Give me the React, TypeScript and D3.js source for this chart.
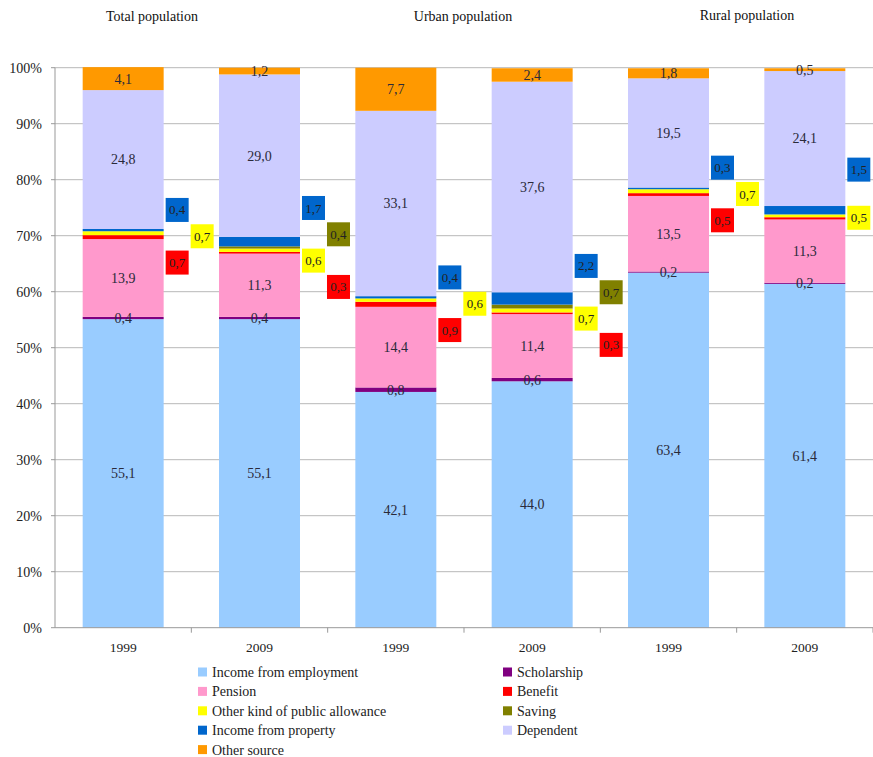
import React from "react";
import * as d3 from "d3";

const groups = ["Total population", "Urban population", "Rural population"];
const years = ["1999", "2009", "1999", "2009", "1999", "2009"];
const barIds = ["t1999", "t2009", "u1999", "u2009", "r1999", "r2009"];

const seriesNames = [
  "Income from employment",
  "Scholarship",
  "Pension",
  "Benefit",
  "Other kind of public allowance",
  "Saving",
  "Income from property",
  "Dependent",
  "Other source",
];
const seriesColors = [
  "#99ccff",
  "#800080",
  "#ff99cc",
  "#ff0000",
  "#ffff00",
  "#808000",
  "#0066cc",
  "#ccccff",
  "#ff9900",
];

const employment = [55.1, 55.1, 42.1, 44.0, 63.4, 61.4];
const scholarship = [0.4, 0.4, 0.8, 0.6, 0.2, 0.2];
const pension = [13.9, 11.3, 14.4, 11.4, 13.5, 11.3];
const benefit = [0.7, 0.3, 0.9, 0.3, 0.5, 0.4];
const allowance = [0.7, 0.6, 0.6, 0.7, 0.7, 0.5];
const saving = [0, 0.4, 0, 0.7, 0, 0];
const property = [0.4, 1.7, 0.4, 2.2, 0.3, 1.5];
const dependent = [24.8, 29.0, 33.1, 37.6, 19.5, 24.1];
const otherSource = [4.1, 1.2, 7.7, 2.4, 1.8, 0.5];

const seriesValues = [
  employment,
  scholarship,
  pension,
  benefit,
  allowance,
  saving,
  property,
  dependent,
  otherSource,
];

const yTicks = [0, 10, 20, 30, 40, 50, 60, 70, 80, 90, 100];

// which series get in-bar labels, which get outside boxes
const inBar = [0, 1, 2, 7, 8];
const boxed = [6, 5, 4, 3]; // top-down order

const W = 873;
const H = 757;
const FONT = "Liberation Serif, Times New Roman, Times, serif";
const tStyle: React.CSSProperties = { fontFamily: FONT };

const fmt = (v: number) => v.toFixed(1).replace(".", ",");

export default function App() {
  const x = d3
    .scaleBand<string>()
    .domain(barIds)
    .range([55, 873])
    .paddingInner(0.406)
    .paddingOuter(0.203);
  const y = d3.scaleLinear().domain([0, 100]).range([627.7, 67.7]);

  const table = barIds.map((id, i) => {
    const row: any = { id };
    seriesNames.forEach((s, k) => (row[s] = seriesValues[k][i]));
    return row;
  });
  const stacked = d3.stack<any>().keys(seriesNames)(table);

  const bw = x.bandwidth();
  const step = x.step();
  const x0 = 55;

  const boxW = 23;
  const boxH = 24;

  const leftCol = [0, 2, 4, 6, 8];
  const rightCol = [1, 3, 5, 7];

  return (
    <svg
      width={W}
      height={H}
      style={{ position: "absolute", left: 0, top: 0, background: "#fff", fontFamily: FONT }}
    >
      {/* titles */}
      {groups.map((g, i) => {
        const tx = [152, 463, 747][i];
        const ty = [21, 21, 20][i];
        return (
          <text key={g} x={tx} y={ty} fontSize={14} textAnchor="middle" fill="#111" style={tStyle}>
            {g}
          </text>
        );
      })}

      {/* gridlines */}
      {yTicks.map((t) => (
        <g key={t}>
          {t > 0 && (
            <line x1={55} x2={W} y1={y(t)} y2={y(t)} stroke="#b8b8b8" strokeWidth={1} />
          )}
          <line x1={51} x2={55} y1={y(t)} y2={y(t)} stroke="#999" />
          <text
            x={42}
            y={y(t)}
            dy="0.35em"
            fontSize={14}
            textAnchor="end"
            fill="#222"
            style={tStyle}
          >
            {t}%
          </text>
        </g>
      ))}

      {/* bars */}
      {stacked.map((layer, k) => (
        <g key={layer.key} fill={seriesColors[k]}>
          {layer.map((d, i) =>
            d[1] - d[0] > 0 ? (
              <rect
                key={i}
                x={x(barIds[i])}
                y={y(d[1])}
                width={bw}
                height={y(d[0]) - y(d[1])}
              />
            ) : null
          )}
        </g>
      ))}

      {/* axes */}
      <line x1={55} x2={55} y1={y(100)} y2={y(0)} stroke="#999" />
      <line x1={55} x2={W} y1={y(0)} y2={y(0)} stroke="#999" />
      {barIds.map((id, i) => (
        <line
          key={id}
          x1={x0 + step * (i + 1)}
          x2={x0 + step * (i + 1)}
          y1={y(0)}
          y2={y(0) + 5}
          stroke="#999"
        />
      ))}
      {years.map((yr, i) => (
        <text
          key={i}
          x={(x(barIds[i]) as number) + bw / 2}
          y={652}
          fontSize={13.5}
          textAnchor="middle"
          fill="#222"
          style={tStyle}
        >
          {yr}
        </text>
      ))}

      {/* in-bar labels */}
      {inBar.map((k) =>
        stacked[k].map((d, i) => {
          const v = seriesValues[k][i];
          if (!v) return null;
          return (
            <text
              key={k + "-" + i}
              x={(x(barIds[i]) as number) + bw / 2}
              y={y((d[0] + d[1]) / 2)}
              dy="0.35em"
              fontSize={14}
              textAnchor="middle"
              fill="#2a2a3a"
              style={tStyle}
            >
              {fmt(v)}
            </text>
          );
        })
      )}

      {/* boxed labels for small segments */}
      {barIds.map((id, i) => {
        const present = boxed.filter((k) => seriesValues[k][i] > 0);
        const lo = stacked[3][i][0];
        const hi = stacked[6][i][1];
        const mid = (lo + hi) / 2;
        const right = (x(id) as number) + bw;
        const twoCols = right + 27 + boxW <= W;
        // when there is no room for a second column, stack in a single column
        // (the lowest label falls outside the frame, as in the source)
        const shown = twoCols ? present : present.slice(0, 2);
        const n = shown.length;
        return (
          <g key={id}>
            {shown.map((k, j) => {
              const pct = twoCols
                ? mid - 0.4 + ((n - 1) / 2 - j) * 4.7
                : mid + 3.4 + ((n - 1) / 2 - j) * 8.6;
              const col = twoCols ? j % 2 : 0;
              const bx = right + 2 + col * 25;
              const cy = y(pct);
              return (
                <g key={k}>
                  <rect
                    x={bx}
                    y={cy - boxH / 2}
                    width={boxW}
                    height={boxH}
                    fill={seriesColors[k]}
                  />
                  <text
                    x={bx + boxW / 2}
                    y={cy}
                    dy="0.35em"
                    fontSize={13}
                    textAnchor="middle"
                    fill="#222"
                    style={tStyle}
                  >
                    {fmt(seriesValues[k][i])}
                  </text>
                </g>
              );
            })}
          </g>
        );
      })}

      {/* legend */}
      {seriesNames.map((s, k) => {
        const isLeft = leftCol.includes(k);
        const row = isLeft ? leftCol.indexOf(k) : rightCol.indexOf(k);
        const lx = isLeft ? 198 : 503;
        const ly = 672 + row * 19.4;
        return (
          <g key={s}>
            <rect x={lx} y={ly - 4.5} width={9} height={9} fill={seriesColors[k]} />
            <text x={lx + 14} y={ly} dy="0.35em" fontSize={14} fill="#222" style={tStyle}>
              {s}
            </text>
          </g>
        );
      })}
    </svg>
  );
}
